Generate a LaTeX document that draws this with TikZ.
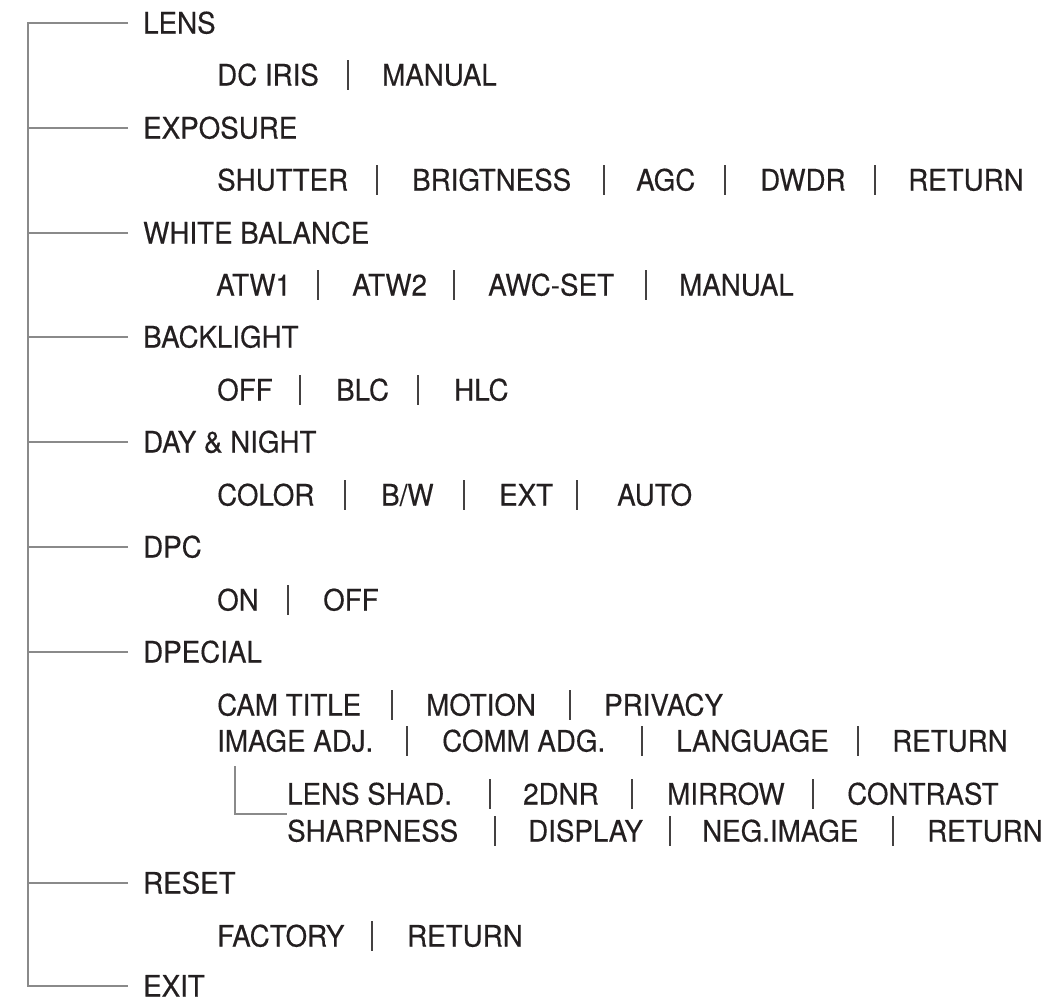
\documentclass[tikz,border=0pt]{standalone}
\usepackage{fontspec}
\setmainfont[FakeBold=0.3,FakeStretch=0.94]{TeX Gyre Heros}
\definecolor{ink}{HTML}{231F20}
\definecolor{treegray}{HTML}{8A8A8A}
% separator bar between two menu entries: \rowbar{x}{y}
\newcommand{\rowbar}[2]{\draw[sep] (#1,#2) ++(0,-15) -- ++(0,30);}
\begin{document}
\begin{tikzpicture}[x=1pt,y=-1pt,
  every node/.style={inner sep=0pt,anchor=west,text height=21pt,text depth=0pt,
    font=\fontsize{29.5}{33}\selectfont,text=ink},
  tree/.style={draw=treegray,line width=1.2pt},
  sep/.style={draw=ink!85,line width=1.2pt}]
\useasboundingbox (0,0) rectangle (1054,1001);
% top level
\node (lens) at (143,23) {LENS};
\node (expo) at (143,128) {EXPOSURE};
\node (wb) at (143,233) {WHITE BALANCE};
\node (blight) at (143,337) {BACKLIGHT};
\node (daynight) at (143,442) {DAY \& NIGHT};
\node (dpc) at (143,547) {DPC};
\node (special) at (143,652) {DPECIAL};
\node (reset) at (143,883) {RESET};
\node (exit) at (143,986) {EXIT};
% tree
\draw[tree] ([xshift=-15pt]lens.west) -- ++(-100,0) |- ([xshift=-15pt]exit.west);
\draw[tree] ([xshift=-15pt]expo.west) -- ++(-100,0);
\draw[tree] ([xshift=-15pt]wb.west) -- ++(-100,0);
\draw[tree] ([xshift=-15pt]blight.west) -- ++(-100,0);
\draw[tree] ([xshift=-15pt]daynight.west) -- ++(-100,0);
\draw[tree] ([xshift=-15pt]dpc.west) -- ++(-100,0);
\draw[tree] ([xshift=-15pt]special.west) -- ++(-100,0);
\draw[tree] ([xshift=-15pt]reset.west) -- ++(-100,0);
% lens
\node (dciris) at (217,75) {DC IRIS}; \rowbar{348}{75}
\node (lensman) at (382,75) {MANUAL};
% exposure
\node (shutter) at (217,180) {SHUTTER}; \rowbar{377}{180}
\node (bright) at (412,180) {BRIGTNESS}; \rowbar{604}{180}
\node (agc) at (636,180) {AGC}; \rowbar{725}{180}
\node (dwdr) at (760,180) {DWDR}; \rowbar{875}{180}
\node (exporet) at (908,180) {RETURN};
% white balance
\node (atwa) at (216,285) {ATW1}; \rowbar{318}{285}
\node (atwb) at (352,285) {ATW2}; \rowbar{454}{285}
\node (awcset) at (488,285) {AWC-SET}; \rowbar{646}{285}
\node (wbman) at (679,285) {MANUAL};
% backlight
\node (bloff) at (217,390) {OFF}; \rowbar{300}{390}
\node (blc) at (336,390) {BLC}; \rowbar{418}{390}
\node (hlc) at (454,390) {HLC};
% day & night
\node (color) at (217,495) {COLOR}; \rowbar{345}{495}
\node (bw) at (381,495) {B/W}; \rowbar{464}{495}
\node (ext) at (499,495) {EXT}; \rowbar{577}{495}
\node (auto) at (617,495) {AUTO};
% dpc
\node (dpcon) at (217,600) {ON}; \rowbar{288}{600}
\node (dpcoff) at (323,600) {OFF};
% special
\node (camtitle) at (217,705) {CAM TITLE}; \rowbar{392}{705}
\node (motion) at (426,705) {MOTION}; \rowbar{570}{705}
\node (privacy) at (604,705) {PRIVACY};
\node (imgadj) at (217,741) {IMAGE ADJ.}; \rowbar{407}{741}
\node (commadg) at (442,741) {COMM ADG.}; \rowbar{642}{741}
\node (language) at (676,741) {LANGUAGE}; \rowbar{858}{741}
\node (specret) at (892,741) {RETURN};
% image adj.
\node (lensshad) at (287,794) {LENS SHAD.}; \rowbar{490}{794}
\node (dnr) at (523,794) {2DNR}; \rowbar{632}{794}
\node (mirrow) at (667,794) {MIRROW}; \rowbar{813}{794}
\node (contrast) at (847,794) {CONTRAST};
\node (sharp) at (287,831) {SHARPNESS}; \rowbar{495}{831}
\node (display) at (528,831) {DISPLAY}; \rowbar{670}{831}
\node (negimg) at (702,831) {NEG.IMAGE}; \rowbar{893}{831}
\node (imgret) at (927,831) {RETURN};
\coordinate (fork) at (235,766);
\draw[tree] (fork) |- ([yshift=-20pt]lensshad.west);
% reset
\node (factory) at (217,936) {FACTORY}; \rowbar{372}{936}
\node (resetret) at (407,936) {RETURN};
\end{tikzpicture}
\end{document}
